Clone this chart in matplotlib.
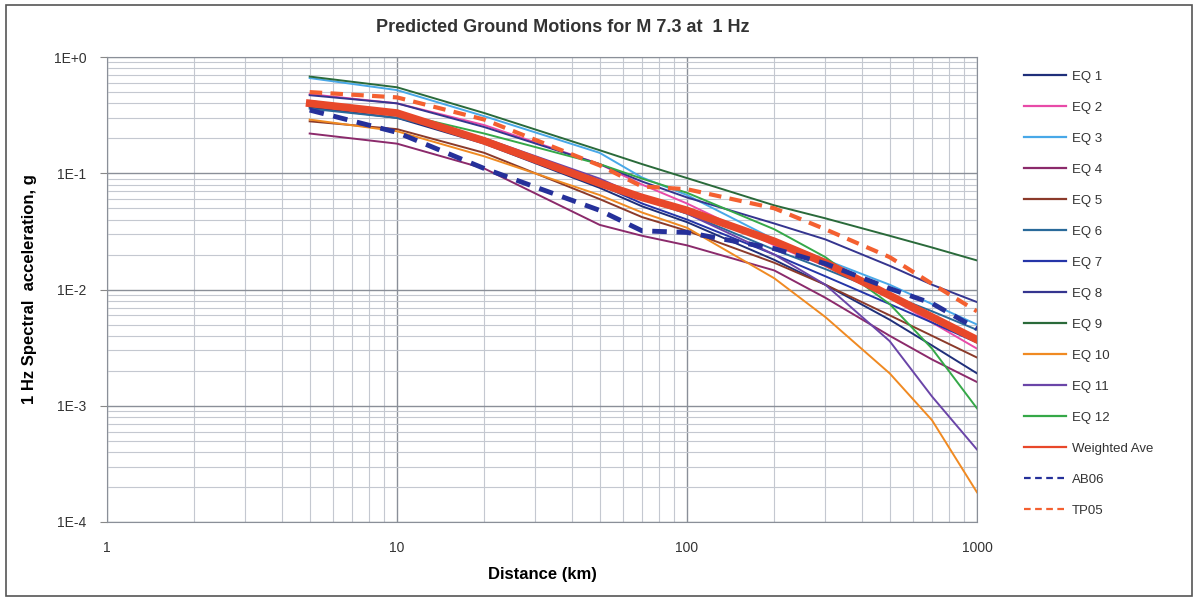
import matplotlib
matplotlib.use("Agg")
import matplotlib.pyplot as plt
from matplotlib.ticker import FixedLocator, LogLocator, NullFormatter
from matplotlib.patches import Rectangle

plt.rcParams["font.family"] = ["Liberation Sans", "DejaVu Sans"]

dist = [5, 10, 20, 50, 70, 100, 200, 300, 500, 700, 1000]

# spectral acceleration (g) per model
eq1 = [0.37, 0.30, 0.18, 0.075, 0.052, 0.038, 0.018, 0.011, 0.0055, 0.0033, 0.0019]
eq2 = [0.48, 0.40, 0.26, 0.12, 0.080, 0.055, 0.024, 0.016, 0.0085, 0.0052, 0.0031]
eq3 = [0.66, 0.52, 0.31, 0.15, 0.092, 0.065, 0.027, 0.018, 0.011, 0.0075, 0.0050]
eq4 = [0.22, 0.18, 0.11, 0.036, 0.029, 0.024, 0.0146, 0.0085, 0.0040, 0.0025, 0.0016]
eq5 = [0.28, 0.24, 0.15, 0.060, 0.042, 0.032, 0.017, 0.011, 0.0060, 0.0040, 0.0026]
eq6 = [0.36, 0.30, 0.20, 0.085, 0.060, 0.045, 0.022, 0.015, 0.0090, 0.0065, 0.0045]
eq7 = [0.40, 0.33, 0.19, 0.080, 0.055, 0.040, 0.020, 0.013, 0.0075, 0.0052, 0.0035]
eq8 = [0.47, 0.40, 0.25, 0.12, 0.085, 0.062, 0.037, 0.027, 0.016, 0.011, 0.0078]
eq9 = [0.68, 0.55, 0.33, 0.158, 0.120, 0.091, 0.053, 0.041, 0.029, 0.023, 0.0178]
eq10 = [0.29, 0.23, 0.14, 0.065, 0.046, 0.034, 0.0125, 0.0058, 0.0019, 0.00075, 0.00018]
eq11 = [0.42, 0.33, 0.20, 0.090, 0.062, 0.045, 0.020, 0.011, 0.0036, 0.0012, 0.00042]
eq12 = [0.38, 0.33, 0.22, 0.12, 0.090, 0.068, 0.033, 0.019, 0.0075, 0.0031, 0.00095]
weighted_ave = [0.40, 0.33, 0.19, 0.082, 0.062, 0.048, 0.026, 0.017, 0.0089, 0.0058, 0.0037]
ab06 = [0.35, 0.225, 0.11, 0.048, 0.032, 0.031, 0.0225, 0.0167, 0.0102, 0.0076, 0.0046]
tp05 = [0.50, 0.45, 0.29, 0.117, 0.077, 0.073, 0.050, 0.033, 0.019, 0.0112, 0.0065]

labels = ["EQ 1", "EQ 2", "EQ 3", "EQ 4", "EQ 5", "EQ 6", "EQ 7", "EQ 8",
          "EQ 9", "EQ 10", "EQ 11", "EQ 12", "Weighted Ave", "AB06", "TP05"]
series = [eq1, eq2, eq3, eq4, eq5, eq6, eq7, eq8, eq9, eq10, eq11, eq12,
          weighted_ave, ab06, tp05]
colors = ["#1f2f7a", "#e84aa8", "#48a8e8", "#8b2a6b", "#8b3a2a", "#2a6a9a",
          "#2535a8", "#35358f", "#2a6a3a", "#f08a22", "#6a45a8", "#35a848",
          "#e8482a", "#25309a", "#f46030"]
widths = [1.4] * 12 + [5.5, 3.5, 3.0]
styles = ["-"] * 13 + [(0, (3, 2)), (0, (3, 2))]

fig = plt.figure(figsize=(11.98, 6.01), dpi=100)
ax = fig.add_axes([0.0893, 0.1315, 0.7262, 0.7735])

for y, lab, c, lw, ls in zip(series, labels, colors, widths, styles):
    ax.plot(dist, y, color=c, lw=lw, linestyle=ls, label=lab)

ax.set_xscale("log")
ax.set_yscale("log")
ax.set_xlim(1, 1000)
ax.set_ylim(1e-4, 1)

ax.xaxis.set_major_locator(FixedLocator([1, 10, 100, 1000]))
ax.set_xticklabels(["1", "10", "100", "1000"])
ax.yaxis.set_major_locator(FixedLocator([1e-4, 1e-3, 1e-2, 1e-1, 1]))
ax.set_yticklabels(["1E-4", "1E-3", "1E-2", "1E-1", "1E+0"])
ax.xaxis.set_minor_locator(LogLocator(base=10, subs=range(2, 10), numticks=20))
ax.yaxis.set_minor_locator(LogLocator(base=10, subs=range(2, 10), numticks=20))
ax.xaxis.set_minor_formatter(NullFormatter())
ax.yaxis.set_minor_formatter(NullFormatter())

ax.grid(True, which="major", color="#8a8f98", lw=1.0)
ax.grid(True, which="minor", color="#c4c8d0", lw=0.8)
ax.set_axisbelow(True)
ax.tick_params(which="major", length=5, color="#888888", labelsize=10,
               labelcolor="#333333", pad=10)
ax.tick_params(axis="x", which="major", pad=14, length=0)
ax.tick_params(which="minor", length=0)
for sp in ax.spines.values():
    sp.set_color("#8a8f98")

ax.set_xlabel("Distance (km)", fontsize=12, fontweight="bold", labelpad=8)
ax.set_ylabel("1 Hz Spectral  acceleration, g", fontsize=12,
              fontweight="bold", labelpad=12)
fig.text(0.47, 0.955, "Predicted Ground Motions for M 7.3 at  1 Hz",
         ha="center", va="center", fontsize=13, fontweight="bold",
         color="#333333")

leg = ax.legend(loc="upper left", bbox_to_anchor=(0.845, 0.902),
                bbox_transform=fig.transFigure, frameon=False, fontsize=9.5,
                handlelength=3.2, labelspacing=1.42, handletextpad=0.4)
for line in leg.get_lines():
    line.set_linewidth(1.6)
for t in leg.get_texts():
    t.set_color("#333333")

fig.patches.append(Rectangle((0.005, 0.008), 0.99, 0.984, transform=fig.transFigure,
                             fill=False, edgecolor="#555555", lw=1.2))

fig.savefig("out.png", dpi=100)
